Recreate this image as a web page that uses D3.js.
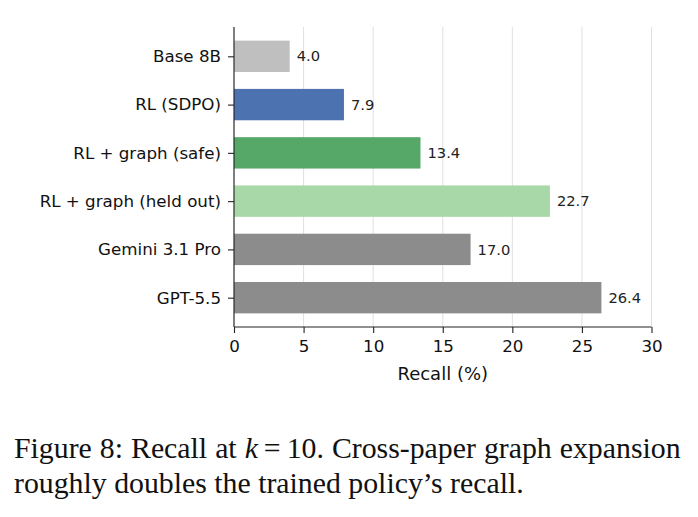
<!DOCTYPE html>
<html>
<head>
<meta charset="utf-8">
<script src="https://cdn.jsdelivr.net/npm/d3@7"></script>
<style>
  body { margin: 0; background: #fff; }
  svg { display: block; }
  .caption { font-family: "Liberation Serif", "Times New Roman", serif; font-size: 29.8px; fill: #111; }
</style>
</head>
<body>
<svg id="chart" width="698" height="517"></svg>
<script>
const categories = ["Base 8B", "RL (SDPO)", "RL + graph (safe)", "RL + graph (held out)", "Gemini 3.1 Pro", "GPT-5.5"];
const recallValues = [4.0, 7.9, 13.4, 22.7, 17.0, 26.4];
const barColors = ["#bfbfbf", "#4c72b0", "#55a868", "#a8d8a8", "#8c8c8c", "#8c8c8c"];
const xTicks = [0, 5, 10, 15, 20, 25, 30];

const svg = d3.select("#chart");
const font = "'DejaVu Sans', sans-serif";

const x = d3.scaleLinear().domain([0, 30]).range([234, 651.5]);
// matplotlib-style barh: index 0 on top, bar height 0.65, 5% margins
const y = d3.scaleLinear().domain([-0.6075, 5.6075]).range([27, 327]);
const barH = 0.65;

// grid
svg.append("g").selectAll("line")
    .data(xTicks)
    .enter().append("line")
    .attr("x1", d => x(d)).attr("x2", d => x(d))
    .attr("y1", 27).attr("y2", 327)
    .attr("stroke", "#e0e0e0")
    .attr("stroke-width", 1);

// bars
svg.append("g").selectAll("rect")
    .data(categories)
    .enter().append("rect")
    .attr("x", x(0))
    .attr("y", (d, i) => y(i - barH / 2))
    .attr("width", (d, i) => x(recallValues[i]) - x(0))
    .attr("height", y(barH) - y(0))
    .attr("fill", (d, i) => barColors[i]);

// value labels
svg.append("g").selectAll("text")
    .data(recallValues)
    .enter().append("text")
    .attr("x", d => x(d) + 7)
    .attr("y", (d, i) => y(i))
    .attr("dy", "0.35em")
    .attr("font-family", font)
    .attr("font-size", 14.7)
    .attr("fill", "#222")
    .text(d => d.toFixed(1));

// x axis
const xAxis = svg.append("g")
    .attr("transform", "translate(0,327)")
    .call(d3.axisBottom(x).tickValues(xTicks).tickSize(6).tickPadding(7).tickFormat(d3.format("d")));
xAxis.selectAll("text").attr("font-family", font).attr("font-size", 16.7).attr("fill", "#111");
xAxis.selectAll("line, path").attr("stroke", "#222").attr("stroke-width", 1.1);
xAxis.select(".domain").attr("d", `M${x(0)},0H${x(30)}`);

// y axis
const yAxis = svg.append("g")
    .attr("transform", `translate(${x(0)},0)`)
    .call(d3.axisLeft(y).tickValues(d3.range(categories.length)).tickSize(6).tickPadding(7)
        .tickFormat(i => categories[i]));
yAxis.selectAll("text").attr("font-family", font).attr("font-size", 16.7).attr("fill", "#111");
yAxis.selectAll("line, path").attr("stroke", "#222").attr("stroke-width", 1.1);
yAxis.select(".domain").attr("d", "M0,27V327");

// axis title
svg.append("text")
    .attr("x", (x(0) + x(30)) / 2)
    .attr("y", 380)
    .attr("text-anchor", "middle")
    .attr("font-family", font)
    .attr("font-size", 18)
    .attr("fill", "#111")
    .text("Recall (%)");

// caption, first line justified like the paper
const cap = svg.append("text").attr("class", "caption").attr("x", 14).attr("y", 458);
cap.append("tspan").text("Figure 8: Recall at ");
cap.append("tspan").attr("font-style", "italic").text("k");
cap.append("tspan").text("\u2009=\u200910. Cross-paper graph expansion");
const natural = cap.node().getComputedTextLength();
cap.attr("word-spacing", Math.max(0, (666 - natural) / 6));
svg.append("text").attr("class", "caption").attr("x", 14).attr("y", 493)
    .text("roughly doubles the trained policy\u2019s recall.");
</script>
</body>
</html>
